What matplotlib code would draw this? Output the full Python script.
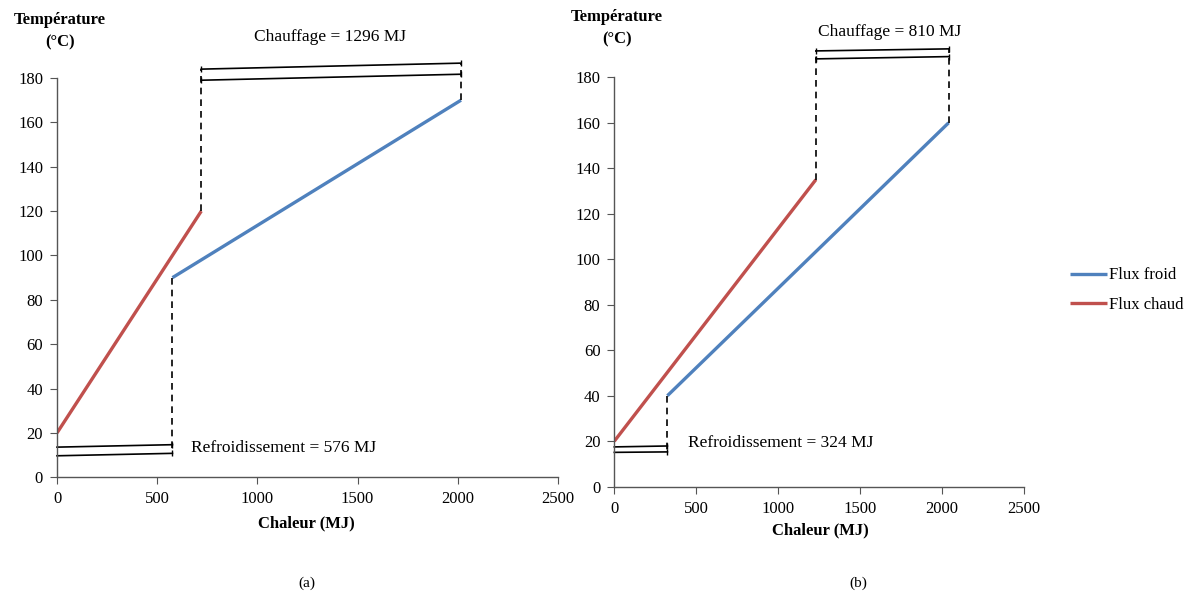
import matplotlib.pyplot as plt

plt.rcParams['font.family'] = ['Liberation Serif', 'DejaVu Serif']

# --- données ---
# (a)
a_chaud_x = [0, 720]
a_chaud_y = [20, 120]
a_froid_x = [576, 2016]
a_froid_y = [90, 170]
a_chauf_haut = [184, 186.7]
a_chauf_bas = [179, 181.7]
a_refr_haut = [13.6, 14.7]
a_refr_bas = [9.7, 10.8]
# (b)
b_chaud_x = [0, 1230]
b_chaud_y = [20, 135]
b_froid_x = [324, 2040]
b_froid_y = [40, 160]
b_chauf_haut = [191.6, 192.5]
b_chauf_bas = [188.1, 189.1]
b_refr_haut = [17.5, 17.9]
b_refr_bas = [15.1, 15.3]

x_ticks = [0, 500, 1000, 1500, 2000, 2500]
y_ticks = [0, 20, 40, 60, 80, 100, 120, 140, 160, 180]

BLEU = '#4F81BD'
ROUGE = '#C0504D'
W, H = 1193, 597

fig = plt.figure(figsize=(W / 100, H / 100), dpi=100)


def fx(px):
    return px / W


def fy(py):
    return 1 - py / H


def axe(rect):
    ax = fig.add_axes(rect)
    ax.set_xlim(0, 2500)
    ax.set_ylim(0, 180)
    ax.set_xticks(x_ticks)
    ax.set_yticks(y_ticks)
    for s in ['top', 'right']:
        ax.spines[s].set_visible(False)
    for s in ['left', 'bottom']:
        ax.spines[s].set_color('#555555')
        ax.spines[s].set_linewidth(1.0)
    ax.tick_params(direction='out', length=5, color='#555555', labelsize=12, pad=5)
    return ax


def schema(ax, chx, chy, frx, fry, ch_haut, ch_bas, rf_haut, rf_bas):
    l_froid, = ax.plot(frx, fry, color=BLEU, lw=2.4, solid_capstyle='butt', label='Flux froid')
    l_chaud, = ax.plot(chx, chy, color=ROUGE, lw=2.4, solid_capstyle='butt', label='Flux chaud')
    kw = dict(color='black', lw=1.2, clip_on=False)
    # chauffage
    xs = [chx[-1], frx[-1]]
    ax.plot(xs, ch_haut, marker='|', ms=5, **kw)
    ax.plot(xs, ch_bas, marker='|', ms=5, **kw)
    ax.plot([chx[-1], chx[-1]], [chy[-1], ch_haut[0]], ls=(0, (4, 3)), **kw)
    ax.plot([frx[-1], frx[-1]], [fry[-1], ch_haut[1]], ls=(0, (4, 3)), **kw)
    # refroidissement
    xr = [0, frx[0]]
    ax.plot(xr, rf_haut, marker='|', ms=5, markevery=[1], **kw)
    ax.plot(xr, rf_bas, marker='|', ms=5, markevery=[1], **kw)
    ax.plot([frx[0], frx[0]], [fry[0], rf_bas[1]], ls=(0, (4, 3)), **kw)
    return l_froid, l_chaud


ax1 = axe([fx(57), fy(477.3), fx(558 - 57), fy(78) - fy(477.3)])
schema(ax1, a_chaud_x, a_chaud_y, a_froid_x, a_froid_y,
       a_chauf_haut, a_chauf_bas, a_refr_haut, a_refr_bas)
ax1.text(1362, 198.5, 'Chauffage = 1296 MJ', ha='center', va='center', fontsize=12.5)
ax1.text(670, 13.2, 'Refroidissement = 576 MJ', ha='left', va='center', fontsize=12.5)

ax2 = axe([fx(614.3), fy(486.7), fx(1024 - 614.3), fy(77.3) - fy(486.7)])
l_froid, l_chaud = schema(ax2, b_chaud_x, b_chaud_y, b_froid_x, b_froid_y,
                          b_chauf_haut, b_chauf_bas, b_refr_haut, b_refr_bas)
ax2.text(1682, 200, 'Chauffage = 810 MJ', ha='center', va='center', fontsize=12.5)
ax2.text(450, 19, 'Refroidissement = 324 MJ', ha='left', va='center', fontsize=12.5)

# titres des axes
for x0, y0 in [(60, 20), (617, 17)]:
    fig.text(fx(x0), fy(y0), 'Température', ha='center', va='center',
             fontsize=12, fontweight='bold')
    fig.text(fx(x0), fy(y0 + 22), '(°C)', ha='center', va='center',
             fontsize=12, fontweight='bold')
fig.text(fx(306), fy(523), 'Chaleur (MJ)', ha='center', va='center', fontsize=12, fontweight='bold')
fig.text(fx(820), fy(530), 'Chaleur (MJ)', ha='center', va='center', fontsize=12, fontweight='bold')
fig.text(fx(307), fy(583), '(a)', ha='center', va='center', fontsize=11)
fig.text(fx(858), fy(583), '(b)', ha='center', va='center', fontsize=11)

fig.legend(handles=[l_froid, l_chaud], loc='center left',
           bbox_to_anchor=(fx(1055), fy(290)), frameon=False, fontsize=12,
           handlelength=2.2, handletextpad=0.15, labelspacing=0.8)

fig.savefig('out.png', dpi=100)
